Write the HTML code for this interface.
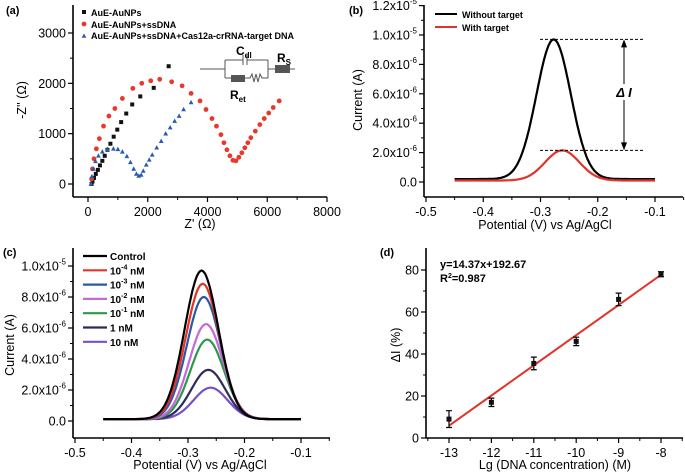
<!DOCTYPE html>
<html><head><meta charset="utf-8"><style>
html,body{margin:0;padding:0;background:#fff}
svg{display:block;font-family:"Liberation Sans",Arial,sans-serif}
</style></head><body>
<svg id="fig" width="685" height="476" viewBox="0 0 685 476"></svg>
<script>
// ---- Panel (a) data: Nyquist ----
const aBlackX=[120,150,200,260,330,400,480,560,650,750,860,980,1110,1280,1480,1750,2200,2700];
const aBlackY=[0,50,120,200,280,370,460,560,680,800,940,1080,1230,1400,1580,1740,1910,2340];
const aRedX=[120,150,200,280,380,520,700,900,1150,1500,1800,2100,2400,2800,3150,3450,3750,3950,4150,4300,4450,4550,4650,4750,4850,4950,5050,5150,5250,5350,5450,5600,5750,5900,6050,6200,6400];
const aRedY=[100,300,500,700,900,1150,1350,1500,1700,1900,2000,2050,2080,2030,1950,1800,1650,1480,1300,1150,980,820,680,560,470,460,530,620,720,820,920,1050,1180,1300,1410,1520,1650];
const aBlueX=[100,130,180,250,350,480,650,850,1000,1150,1300,1420,1530,1620,1700,1780,1850,1950,2050,2150,2300,2450,2600,2750,2900,3050,3200,3450];
const aBlueY=[0,150,300,450,560,640,690,700,690,640,550,430,300,200,160,180,260,380,480,580,720,850,1000,1120,1250,1350,1480,1620];
// ---- Panel (b) data ----
const bLabels=["Without target","With target"];
const bPeakE=[-0.277,-0.262];
const bPeakI=[9.7e-6,2.15e-6];
const bBase=[2.0e-7,1.0e-7];
// ---- Panel (c) data ----
const cLabels=["Control","10-4","10-3","10-2","10-1","1 nM","10 nM"];
const cPeakE=[-0.276,-0.274,-0.272,-0.268,-0.266,-0.264,-0.260];
const cPeakI=[9.7e-6,8.85e-6,8.0e-6,6.25e-6,5.25e-6,3.3e-6,2.15e-6];
const cColors=["#000000","#e53228","#2b59a8","#c46ad8","#2a9a4a","#2e2a5c","#7650c6"];
// ---- Panel (d) data ----
const dX=[-13,-12,-11,-10,-9,-8];
const dY=[9,17,35.5,46,66,78];
const dErr=[4,2,3,2,3,1.2];
const dSlope=14.37, dIntercept=192.67;

const NS="http://www.w3.org/2000/svg";
const svg=document.getElementById('fig');
function el(tag,attrs,parent,text){const e=document.createElementNS(NS,tag);for(const k in attrs)e.setAttribute(k,attrs[k]);if(text!==undefined)e.textContent=text;(parent||svg).appendChild(e);return e;}
function lin(d0,d1,r0,r1){return v=>r0+(v-d0)*(r1-r0)/(d1-d0);}

function axes(g,x0,x1,y0,y1,sx,sy,xt,xminor,yt,yminor,xfmt,yfmt,fs){
  const ax=el('line',{x1:x0,y1:y1,x2:x1,y2:y1,stroke:'#000','stroke-width':1.6},g);
  
  const ay=el('line',{x1:x0,y1:y0,x2:x0,y2:y1,stroke:'#000','stroke-width':1.6},g);
  
  xt.forEach(v=>{const x=sx(v);el('line',{x1:x,y1:y1,x2:x,y2:y1+5,stroke:'#000','stroke-width':1.2},g);
    const t=el('text',{x:x,y:y1+19,'font-size':fs,'text-anchor':'middle'},g);t.innerHTML=xfmt(v);
    });
  xminor.forEach(v=>{const x=sx(v);el('line',{x1:x,y1:y1,x2:x,y2:y1+3,stroke:'#000','stroke-width':1},g);});
  yt.forEach(v=>{const y=sy(v);el('line',{x1:x0,y1:y,x2:x0-5,y2:y,stroke:'#000','stroke-width':1.2},g);
    const t=el('text',{x:x0-7,y:y+4.5,'font-size':fs,'text-anchor':'end'},g);t.innerHTML=yfmt(v);
    });
  yminor.forEach(v=>{const y=sy(v);el('line',{x1:x0,y1:y,x2:x0-3,y2:y,stroke:'#000','stroke-width':1},g);});
}
function sci(v){if(v===0)return '0.0';const e=Math.floor(Math.log10(v)+1e-9);const m=(v/Math.pow(10,e)).toFixed(1);
  return m+'x10<tspan dy="-6" font-size="8">'+e+'</tspan>';}
function gauss(E,pe,pi,base,w){return base+(pi-base)*Math.exp(-Math.pow((E-pe)/w,2)/2);}

// ===== Panel A =====
{const g=el('g',{});
 const sx=lin(0,8000,88,327), sy=lin(0,3000,184,33);
 axes(g,73,327,5,197,sx,sy,[0,2000,4000,6000,8000],[1000,3000,5000,7000],[0,1000,2000,3000],[500,1500,2500],v=>v,v=>v,12.5);
 el('text',{x:6,y:14,'font-size':11,'font-weight':'bold'},g,'(a)');
 let t=el('text',{x:200,y:228,'font-size':12.5,'text-anchor':'middle'},g,"Z' (Ω)");
 t=el('text',{x:0,y:0,'font-size':12.5,'text-anchor':'middle',transform:'translate(26,100) rotate(-90)'},g,"-Z'' (Ω)");
 aBlackX.forEach((x,i)=>{const r=el('rect',{x:sx(x)-2,y:sy(aBlackY[i])-2,width:4,height:4,fill:'#111'},g);});
 aRedX.forEach((x,i)=>{const c=el('circle',{cx:sx(x),cy:sy(aRedY[i]),r:2.4,fill:'#e8382e'},g);});
 aBlueX.forEach((x,i)=>{const X=sx(x),Y=sy(aBlueY[i]);const p=el('polygon',{points:`${X},${Y-2.6} ${X-2.4},${Y+1.8} ${X+2.4},${Y+1.8}`,fill:'#2a5bb0'},g);});
 const lg=el('g',{},g);
 el('rect',{x:82,y:10,width:4,height:4,fill:'#111'},lg);
 el('circle',{cx:84,cy:24,r:2.4,fill:'#e8382e'},lg);
 el('polygon',{points:'84,33.5 81.6,37.8 86.4,37.8',fill:'#2a5bb0'},lg);
 el('text',{x:91,y:16,'font-size':9,'font-weight':'bold'},lg,'AuE-AuNPs');
 el('text',{x:91,y:28,'font-size':9,'font-weight':'bold'},lg,'AuE-AuNPs+ssDNA');
 el('text',{x:91,y:39,'font-size':9,'font-weight':'bold'},lg,'AuE-AuNPs+ssDNA+Cas12a-crRNA-target DNA');
 const cg=el('g',{stroke:'#555','stroke-width':1,fill:'none'},g);
 el('path',{d:'M200 69 H225 M225 60 V78 M225 60 H243 M247 60 H268 M243 55 V65 M247 55 V65 M225 78 H231 M245 78 H250 L252 74 L254 82 L256 74 L258 82 L260 74 L262 78 H268 M268 60 V78 M268 69 H275 M290 69 H295'},cg);
 el('rect',{x:231,y:75,width:14,height:7,fill:'#555'},g);
 el('rect',{x:275,y:65,width:15,height:8,fill:'#555'},g);
 el('text',{x:236,y:55,'font-size':12,'font-weight':'bold'},g).innerHTML='C<tspan font-size="8" dy="3">dl</tspan>';
 el('text',{x:277,y:62,'font-size':12,'font-weight':'bold'},g).innerHTML='R<tspan font-size="8" dy="3">S</tspan>';
 el('text',{x:230,y:99,'font-size':12,'font-weight':'bold'},g).innerHTML='R<tspan font-size="8" dy="3">et</tspan>';
}

// ===== Panel B =====
{const g=el('g',{});
 const sx=lin(-0.5,-0.1,426,655), sy=lin(0,1e-5,182,35);
 axes(g,424,683,5,197,sx,sy,[-0.5,-0.4,-0.3,-0.2,-0.1],[-0.45,-0.35,-0.25,-0.15,-0.05],[0,2e-6,4e-6,6e-6,8e-6,1e-5,1.2e-5],[1e-6,3e-6,5e-6,7e-6,9e-6,1.1e-5],v=>v.toFixed(1),sci,12.5);
 el('text',{x:349,y:14,'font-size':11,'font-weight':'bold'},g,'(b)');
 let t=el('text',{x:545,y:229,'font-size':12.5,'text-anchor':'middle'},g,'Potential (V) vs Ag/AgCl');
 t=el('text',{x:0,y:0,'font-size':12.5,'text-anchor':'middle',transform:'translate(362,100) rotate(-90)'},g,'Current (A)');
 const cols=['#000','#e0332b'];
 bPeakE.forEach((pe,k)=>{let d='';for(let E=-0.45;E<=-0.0999;E+=0.002){d+=(d?'L':'M')+sx(E).toFixed(1)+' '+sy(gauss(E,pe,bPeakI[k],bBase[k],0.03)).toFixed(1);}
   const p=el('path',{d:d,stroke:cols[k],'stroke-width':2.2,fill:'none'},g);});
 bLabels.forEach((l,k)=>{el('line',{x1:435,y1:14+k*13,x2:457,y2:14+k*13,stroke:cols[k],'stroke-width':2},g);
   const tt=el('text',{x:462,y:18+k*13,'font-size':9,'font-weight':'bold'},g,l);});
 const y1=sy(bPeakI[0]),y2=sy(bPeakI[1]);
 el('line',{x1:540,y1:y1,x2:645,y2:y1,stroke:'#000','stroke-dasharray':'3,2','stroke-width':1},g);
 el('line',{x1:540,y1:y2,x2:645,y2:y2,stroke:'#000','stroke-dasharray':'3,2','stroke-width':1},g);
 el('line',{x1:624,y1:y1+2,x2:624,y2:y2-2,stroke:'#000','stroke-width':1},g);
 el('polygon',{points:`624,${y1} 621,${y1+8} 627,${y1+8}`},g);
 el('polygon',{points:`624,${y2} 621,${y2-8} 627,${y2-8}`},g);
 el('rect',{x:612,y:84,width:24,height:16,fill:'#fff'},g);
 el('text',{x:624,y:97,'font-size':13,'font-style':'italic','font-weight':'bold','text-anchor':'middle'},g,'Δ I');
}

// ===== Panel C =====
{const g=el('g',{});
 const sx=lin(-0.5,-0.1,75,301), sy=lin(0,1e-5,421,266);
 axes(g,73,330,248,438,sx,sy,[-0.5,-0.4,-0.3,-0.2,-0.1],[-0.45,-0.35,-0.25,-0.15,-0.05],[0,2e-6,4e-6,6e-6,8e-6,1e-5],[1e-6,3e-6,5e-6,7e-6,9e-6],v=>v.toFixed(1),sci,12.5);
 el('text',{x:3,y:256,'font-size':11,'font-weight':'bold'},g,'(c)');
 let t=el('text',{x:200,y:469,'font-size':12.5,'text-anchor':'middle'},g,'Potential (V) vs Ag/AgCl');
 t=el('text',{x:0,y:0,'font-size':12.5,'text-anchor':'middle',transform:'translate(14,345) rotate(-90)'},g,'Current (A)');
 for(let k=cPeakE.length-1;k>=0;k--){let d='';for(let E=-0.45;E<=-0.0999;E+=0.002){d+=(d?'L':'M')+sx(E).toFixed(1)+' '+sy(gauss(E,cPeakE[k],cPeakI[k],1.2e-7,0.03)).toFixed(1);}
   const p=el('path',{d:d,stroke:cColors[k],'stroke-width':2.2,fill:'none'},g);}
 cLabels.forEach((l,k)=>{const y=256+k*14.3;el('line',{x1:83,y1:y,x2:107,y2:y,stroke:cColors[k],'stroke-width':2.2},g);
   let h=l;const m=l.match(/^10(-\d)$/);if(m)h='10<tspan dy="-5" font-size="7">'+m[1]+'</tspan><tspan dy="5"> nM</tspan>';
   const tt=el('text',{x:110,y:y+4,'font-size':10,'font-weight':'bold'},g);tt.innerHTML=h;});
}

// ===== Panel D =====
{const g=el('g',{});
 const sx=lin(-13,-8,449,661), sy=lin(0,80,438,270);
 axes(g,426,683,248,438,sx,sy,[-13,-12,-11,-10,-9,-8],[-13.5,-12.5,-11.5,-10.5,-9.5,-8.5,-7.5],[0,20,40,60,80],[10,30,50,70],v=>v,v=>v,12.5);
 el('text',{x:380,y:256,'font-size':11,'font-weight':'bold'},g,'(d)');
 let t=el('text',{x:555,y:469,'font-size':12.5,'text-anchor':'middle'},g,'Lg (DNA concentration) (M)');
 t=el('text',{x:0,y:0,'font-size':12.5,'text-anchor':'middle',transform:'translate(400,345) rotate(-90)'},g,'ΔI (%)');
 const xa=dX[0],xb=dX[dX.length-1];
 const fl=el('line',{x1:sx(xa),y1:sy(dSlope*xa+dIntercept),x2:sx(xb),y2:sy(dSlope*xb+dIntercept),stroke:'#e0332b','stroke-width':2},g);
 
 dX.forEach((x,i)=>{const X=sx(x),Y=sy(dY[i]),t1=sy(dY[i]+dErr[i]),b1=sy(dY[i]-dErr[i]);
  el('path',{d:`M${X} ${t1} V${b1} M${X-3} ${t1} H${X+3} M${X-3} ${b1} H${X+3}`,stroke:'#000','stroke-width':1.2,fill:'none'},g);
  const r=el('rect',{x:X-2.5,y:Y-2.5,width:5,height:5,fill:'#111'},g);});
 el('text',{x:440,y:268,'font-size':11,'font-weight':'bold'},g,'y=14.37x+192.67');
 el('text',{x:440,y:282,'font-size':11,'font-weight':'bold'},g).innerHTML='R<tspan dy="-4" font-size="7">2</tspan><tspan dy="4">=0.987</tspan>';
}
</script>
</body></html>
